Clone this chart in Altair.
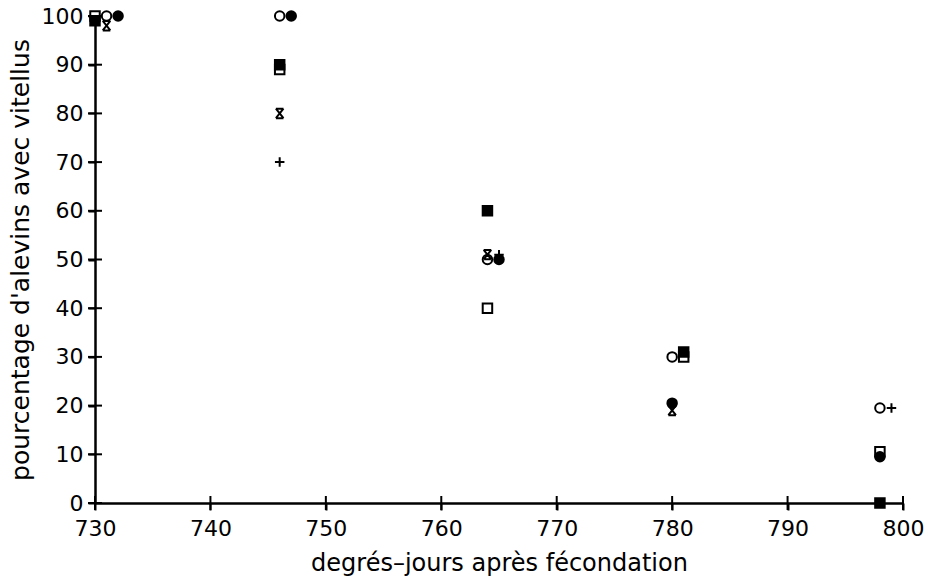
import altair as alt
import pandas as pd

series_names = ["open square", "filled square", "open circle", "filled circle", "star", "plus"]

open_square_x = [730, 746, 764, 781, 798]
open_square_y = [100, 89, 40, 30, 10.5]
filled_square_x = [730, 746, 764, 781, 798]
filled_square_y = [99, 90, 60, 31, 0]
open_circle_x = [731, 746, 764, 780, 798]
open_circle_y = [100, 100, 50, 30, 19.5]
filled_circle_x = [732, 747, 765, 780, 798]
filled_circle_y = [100, 100, 50, 20.5, 9.5]
star_x = [731, 746, 764, 780]
star_y = [98, 80, 51, 19]
plus_x = [746, 765, 799]
plus_y = [70, 51, 19.5]

x_ticks = [730, 740, 750, 760, 770, 780, 790, 800]
y_ticks = [0, 10, 20, 30, 40, 50, 60, 70, 80, 90, 100]

series_xy = [
    (open_square_x, open_square_y),
    (filled_square_x, filled_square_y),
    (open_circle_x, open_circle_y),
    (filled_circle_x, filled_circle_y),
    (star_x, star_y),
    (plus_x, plus_y),
]
rows = []
for rank, (name, (xs, ys)) in enumerate(zip(series_names, series_xy)):
    for xv, yv in zip(xs, ys):
        rows.append({"series": name, "x": xv, "y": yv, "rank": rank})
df = pd.DataFrame(rows)

FONT = "DejaVu Sans"
shape_range = [
    "square", "square", "circle", "circle",
    "M-0.8,-1L0.8,1M-0.8,1L0.8,-1M-0.8,-1H0.8M-0.8,1H0.8",
    "M-1,0H1M0,-1V1",
]
fill_range = ["white", "black", "white", "black", "transparent", "transparent"]
size_range = [90, 90, 100, 100, 90, 144]

xscale = alt.Scale(domain=[730, 800], nice=False, zero=False)
yscale = alt.Scale(domain=[0, 100], nice=False, zero=True)

common_axis = dict(
    grid=False, domainColor="black", tickColor="black", labelColor="black",
    titleColor="black", labelFont=FONT, titleFont=FONT, labelFontSize=22,
    titleFontWeight="normal", tickWidth=2, domainWidth=2.5,
    tickSize=7,
)

points = alt.Chart(df).mark_point(filled=False, stroke="black", strokeWidth=2, opacity=1).encode(
    x=alt.X("x:Q", scale=xscale, axis=alt.Axis(
        orient="bottom", values=x_ticks, title="degrés–jours après fécondation",
        labelPadding=8, titlePadding=12, titleFontSize=24, labelFlush=False, **common_axis)),
    y=alt.Y("y:Q", scale=yscale, axis=alt.Axis(
        orient="left", values=y_ticks, title="pourcentage d'alevins avec vitellus",
        labelPadding=5, titlePadding=8, titleFontSize=25, labelFlush=False, **common_axis)),
    shape=alt.Shape("series:N", scale=alt.Scale(domain=series_names, range=shape_range), legend=None),
    fill=alt.Fill("series:N", scale=alt.Scale(domain=series_names, range=fill_range), legend=None),
    size=alt.Size("series:N", scale=alt.Scale(domain=series_names, range=size_range), legend=None),
    order=alt.Order("rank:Q"),
)

xt = alt.Chart(pd.DataFrame({"t": x_ticks})).mark_tick(
    orient="vertical", size=14, thickness=2, color="black", opacity=1
).encode(x=alt.X("t:Q", scale=xscale), y=alt.datum(0, scale=yscale) if False else alt.datum(0))

yt = alt.Chart(pd.DataFrame({"t": y_ticks})).mark_tick(
    orient="horizontal", size=14, thickness=2, color="black", opacity=1
).encode(y=alt.Y("t:Q", scale=yscale), x=alt.datum(730))

chart = alt.layer(points, xt, yt).properties(
    width=808, height=487,
    padding={"left": 95, "top": 16, "right": 28, "bottom": 75},
    autosize="none",
    background="white",
).configure_view(stroke=None)

chart.save("out.html", embed_options={"renderer": "svg", "actions": False})
